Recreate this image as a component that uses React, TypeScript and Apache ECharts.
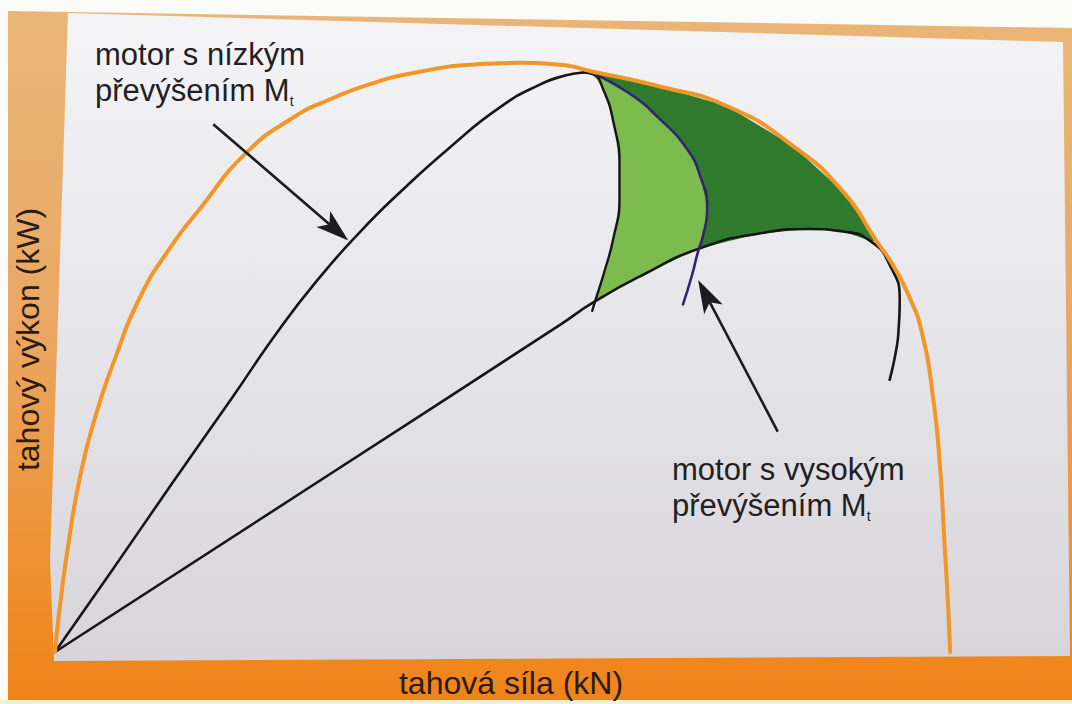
import { useEffect, useRef } from "react";
import * as echarts from "echarts";

const FONT = '"Liberation Sans", Arial, Helvetica, sans-serif';
const TEXT_COLOR = "#221e22";

// Axis titles
const forceTitle = "tahová síla (kN)";
const powerTitle = "tahový výkon (kW)";

// Annotation texts
const lowLabelLines = ["motor s nízkým", "převýšením M"];
const highLabelLines = ["motor s vysokým", "převýšením M"];
const torqueSubscript = "t";

// Curves as [tahová síla, tahový výkon] in relative units (0–100)
const envelope = [
  [0, 0], [0.5, 7.3], [1.3, 16.6], [2.5, 27.5], [4, 36.8], [6, 46.1], [8.4, 55.4],
  [11.4, 63.2], [14.4, 69.4], [18.9, 78], [23.6, 83.6], [27.3, 86.5], [31.5, 89],
  [36.2, 90.8], [41.2, 91.9], [46.1, 92.2], [50.1, 91.9], [53.4, 90.8], [60, 88.5],
  [66.7, 85.4], [73.2, 79.2], [78.2, 72], [81.5, 64.3], [83.1, 60.6], [84.8, 55.4],
  [86, 50], [87.1, 39.9], [87.8, 29], [88.2, 18.2], [88.6, 7.3], [88.8, 0],
];

const lowExcessCurve = [
  [0, 0], [5.5, 12.4], [11.4, 25.9], [17.4, 39.4], [22.3, 50.6], [26.3, 58.7],
  [30.3, 65.8], [34.2, 71.9], [39.2, 79], [44.2, 85.3], [48.1, 88.8], [50.6, 90.2],
  [52.4, 90.7],
];

const baseCurve = [
  [0, 0], [24.3, 24.8], [50.1, 51.2], [53.4, 54.7], [58.3, 59], [64, 63.2], [69.9, 65.5],
  [74.9, 66.2], [78.2, 65.8], [80.9, 64.3], [82.8, 60.6], [83.8, 55], [83.7, 50.8],
  [83.5, 47.7], [82.8, 42.6],
];

const wallCurve = [
  [52.4, 90.7], [53.4, 90.4], [54.4, 88], [55.4, 82.9], [56, 76.1], [56, 71],
  [55.4, 64.8], [54.4, 59], [53.6, 55], [53.3, 53.4],
];

const highExcessCurve = [
  [53.1, 90.7], [56.8, 87.6], [60, 83.4], [62.7, 78.7], [64, 74.5], [64.7, 69.4],
  [64.3, 65.2], [63.8, 62.7], [63.2, 59], [62.3, 54.4],
];

// Pointer arrows: [tail, tip]
const lowArrow = [[15.7, 82.6], [29.1, 64.4]];
const highArrow = [[71.7, 34.5], [63.8, 58.2]];

// Filled zones built from the curves above
const lightZone = [
  ...wallCurve,
  ...baseCurve.filter((p) => p[0] > 53 && p[0] <= 64),
  ...highExcessCurve.filter((p) => p[1] >= 65).reverse(),
];
const darkZone = [
  ...highExcessCurve.filter((p) => p[1] >= 65),
  ...baseCurve.filter((p) => p[0] >= 63.9 && p[0] <= 81),
  ...envelope.filter((p) => p[0] >= 53 && p[0] <= 82 && p[1] > 50).reverse(),
];
const zones = [lightZone, darkZone];
const zoneColors = ["#7dbb4f", "#2f7a2c"];
const arrows = [lowArrow, highArrow];

const richLabel = (lines: string[]) =>
  `{a|${lines[0]}}\n{a|${lines[1]}}{s|${torqueSubscript}}`;

const richStyles = {
  a: { fontSize: 31, lineHeight: 36, fontFamily: FONT, fill: TEXT_COLOR, color: TEXT_COLOR },
  s: {
    fontSize: 14,
    lineHeight: 14,
    fontFamily: FONT,
    fill: TEXT_COLOR,
    color: TEXT_COLOR,
    verticalAlign: "bottom",
  },
};

export default function App() {
  const ref = useRef<HTMLDivElement>(null);

  useEffect(() => {
    if (!ref.current) return;
    const chart = echarts.init(ref.current, null, { renderer: "svg" });

    const frameFill = new echarts.graphic.LinearGradient(0, 0, 0, 1, [
      { offset: 0, color: "#e9b678" },
      { offset: 0.45, color: "#eaa864" },
      { offset: 0.8, color: "#ee9131" },
      { offset: 1, color: "#f08318" },
    ]);
    const panelFill = new echarts.graphic.LinearGradient(0, 0, 0, 1, [
      { offset: 0, color: "#f4f4f6" },
      { offset: 0.5, color: "#e6e5e9" },
      { offset: 1, color: "#d7d5db" },
    ]);

    const curveLine = (data: number[][], color: string, width: number, z: number) => ({
      type: "line",
      data,
      showSymbol: false,
      smooth: 0.55,
      silent: true,
      z,
      lineStyle: { color, width, cap: "round", join: "round" },
    });

    chart.setOption({
      animation: false,
      backgroundColor: "#fbfbf8",
      grid: { left: 55, right: 9, top: 13, bottom: 47, containLabel: false },
      xAxis: {
        type: "value",
        min: 0,
        max: 100,
        name: forceTitle,
        nameLocation: "middle",
        nameGap: 15,
        nameTextStyle: {
          fontSize: 32,
          fontFamily: FONT,
          color: "#2a1c12",
          padding: [0, 96, 0, 0],
        },
        axisLine: { show: false },
        axisTick: { show: false },
        axisLabel: { show: false },
        splitLine: { show: false },
      },
      yAxis: {
        type: "value",
        min: 0,
        max: 100,
        name: powerTitle,
        nameLocation: "middle",
        nameRotate: 90,
        nameGap: 11,
        nameTextStyle: {
          fontSize: 32,
          fontFamily: FONT,
          color: "#2a1c12",
          padding: [0, 14, 0, 0],
        },
        axisLine: { show: false },
        axisTick: { show: false },
        axisLabel: { show: false },
        splitLine: { show: false },
      },
      graphic: {
        elements: [
          {
            type: "polygon",
            z: -20,
            silent: true,
            shape: { points: [[8, 11], [1072, 28], [1072, 700], [8, 700]] },
            style: { fill: frameFill },
          },
          {
            type: "rect",
            z: -20,
            silent: true,
            shape: { x: 0, y: 700, width: 1072, height: 4 },
            style: { fill: "#f3efd6" },
          },
          {
            type: "polygon",
            z: -19,
            silent: true,
            shape: { points: [[68, 13], [1063, 42], [1070, 656], [54, 661], [50, 560]] },
            style: { fill: panelFill },
          },
          {
            type: "text",
            z: 50,
            x: 95,
            y: 36,
            silent: true,
            style: { text: richLabel(lowLabelLines), rich: richStyles, fill: TEXT_COLOR },
          },
          {
            type: "text",
            z: 50,
            x: 672,
            y: 451,
            silent: true,
            style: { text: richLabel(highLabelLines), rich: richStyles, fill: TEXT_COLOR },
          },
        ],
      },
      series: [
        {
          type: "custom",
          silent: true,
          z: 1,
          clip: false,
          data: zones.map((_, i) => [i]),
          renderItem: (params: any, api: any) => {
            const pts = zones[params.dataIndex].map((p) => api.coord(p));
            return {
              type: "polygon",
              shape: { points: pts, smooth: 0 },
              style: { fill: zoneColors[params.dataIndex] },
            };
          },
        },
        curveLine(baseCurve, "#161616", 2.6, 3),
        curveLine(lowExcessCurve, "#161616", 2.6, 3),
        curveLine(wallCurve, "#161616", 2.4, 3),
        curveLine(highExcessCurve, "#33246f", 2.6, 4),
        curveLine(envelope, "#f29628", 4, 5),
        {
          type: "custom",
          silent: true,
          z: 6,
          clip: false,
          data: arrows.map((_, i) => [i]),
          renderItem: (params: any, api: any) => {
            const seg = arrows[params.dataIndex];
            const a = api.coord(seg[0]);
            const b = api.coord(seg[1]);
            const dx = b[0] - a[0];
            const dy = b[1] - a[1];
            const len = Math.hypot(dx, dy);
            const ux = dx / len;
            const uy = dy / len;
            const nx = -uy;
            const ny = ux;
            const headLen = 33;
            const half = 10.5;
            const notch = 8;
            const back = [b[0] - ux * headLen, b[1] - uy * headLen];
            const mid = [b[0] - ux * (headLen - notch), b[1] - uy * (headLen - notch)];
            return {
              type: "group",
              children: [
                {
                  type: "line",
                  shape: { x1: a[0], y1: a[1], x2: mid[0], y2: mid[1] },
                  style: { stroke: "#1c1c1e", lineWidth: 2.6 },
                },
                {
                  type: "polygon",
                  shape: {
                    points: [
                      b,
                      [back[0] + nx * half, back[1] + ny * half],
                      mid,
                      [back[0] - nx * half, back[1] - ny * half],
                    ],
                  },
                  style: { fill: "#1c1c1e" },
                },
              ],
            };
          },
        },
      ],
    });

    return () => chart.dispose();
  }, []);

  return (
    <div
      ref={ref}
      style={{ position: "fixed", left: 0, top: 0, width: 1072, height: 704 }}
    />
  );
}
